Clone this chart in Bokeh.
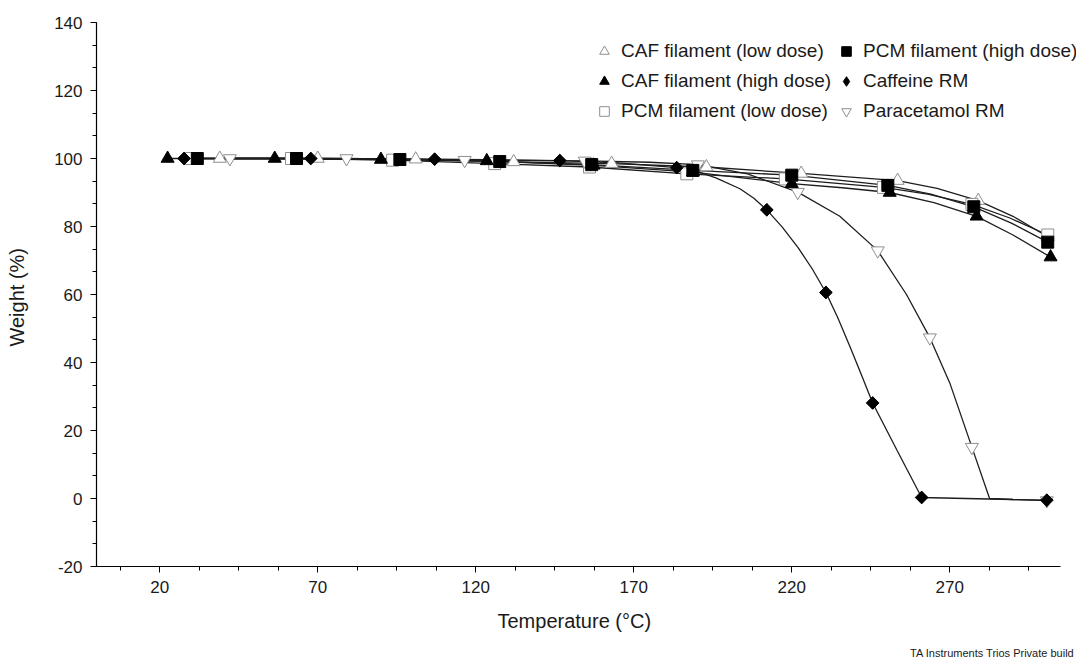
from bokeh.plotting import figure
from bokeh.models import FixedTicker, Legend, LegendItem, Title, Range1d
from bokeh.embed import file_html
from bokeh.resources import INLINE

# ---------------- data ----------------
# CAF filament (low dose)
caf_low_T = [39, 70, 101, 132, 163, 193, 223, 253.5, 266, 279, 290, 301]
caf_low_W = [100, 100, 99.8, 99.0, 98.5, 97.5, 95.6, 93.5, 91.2, 87.6, 83.0, 77.0]
caf_low_mT = [39, 70, 101, 132, 163, 193, 223, 253.5, 279, 301]
caf_low_mW = [100, 100, 99.8, 99.0, 98.5, 97.5, 95.6, 93.5, 87.6, 77.0]

# CAF filament (high dose)
caf_high_T = [22.5, 56.4, 90, 123.5, 157.3, 188.7, 220, 236, 251, 265, 278.5, 290, 301.9]
caf_high_W = [100, 100, 99.7, 99.3, 98.0, 96.0, 92.6, 91.4, 90.0, 87.0, 83.0, 77.5, 71.0]
caf_high_mT = [22.5, 56.4, 90, 123.5, 157.3, 188.7, 220, 251, 278.5, 301.9]
caf_high_mW = [100, 100, 99.7, 99.3, 98.0, 96.0, 92.6, 90.0, 83.0, 71.0]

# PCM filament (low dose)
pcm_low_T = [30, 61.7, 93.7, 126, 156, 186.8, 218, 249, 263, 277, 289, 301]
pcm_low_W = [100, 100, 99.5, 98.5, 97.5, 95.5, 94.0, 91.5, 89.5, 86.5, 82.5, 77.5]
pcm_low_mT = [30, 61.7, 93.7, 126, 156, 186.8, 218, 249, 277, 301]
pcm_low_mW = [100, 100, 99.5, 98.5, 97.5, 95.5, 94.0, 91.5, 86.5, 77.5]

# PCM filament (high dose)
pcm_high_T = [31.9, 63.3, 96, 127.6, 156.7, 188.7, 220, 250.4, 264, 277.6, 289.5, 301]
pcm_high_W = [100, 100, 99.7, 99.1, 98.2, 96.5, 95.1, 92.1, 89.5, 85.8, 81.0, 75.4]
pcm_high_mT = [31.9, 63.3, 96, 127.6, 156.7, 188.7, 220, 250.4, 277.6, 301]
pcm_high_mW = [100, 100, 99.7, 99.1, 98.2, 96.5, 95.1, 92.1, 85.8, 75.4]

# Caffeine RM
caf_rm_T = [27.7, 67.8, 107, 146.6, 165, 183.6, 190, 196, 203.6, 208, 212.1, 217, 222,
            226.5, 230.8, 234.5, 238.5, 242, 245.6, 253.3, 261.1, 275, 290, 300.7]
caf_rm_W = [100, 100, 99.8, 99.4, 98.7, 97.3, 96.2, 94.3, 91.1, 88.3, 84.9, 79.8, 73.8,
            67.5, 60.6, 53.3, 44.5, 36.5, 28.1, 14.2, 0.3, 0.0, -0.3, -0.5]
caf_rm_mT = [27.7, 67.8, 107, 146.6, 183.6, 212.1, 230.8, 245.6, 261.1, 300.7]
caf_rm_mW = [100, 100, 99.8, 99.4, 97.3, 84.9, 60.6, 28.1, 0.3, -0.5]

# Paracetamol RM
pcm_rm_T = [42.2, 79.1, 116.5, 154.5, 175, 190.3, 206, 221.9, 235.2, 247.2, 256.3,
            263.7, 270, 277, 282.6, 290, 300.7]
pcm_rm_W = [100, 100, 99.5, 99.3, 98.9, 98.2, 95.5, 90.1, 83.0, 72.9, 60.0,
            47.3, 34.0, 15.1, 0.0, -0.3, -0.6]
pcm_rm_mT = [42.2, 79.1, 116.5, 154.5, 190.3, 221.9, 247.2, 263.7, 277, 300.7]
pcm_rm_mW = [100, 100, 99.5, 99.3, 98.2, 90.1, 72.9, 47.3, 15.1, -0.6]

x_major = [20, 70, 120, 170, 220, 270]
x_minor = [7.5 + 12.5 * i for i in range(24)]
y_major = [-20, 0, 20, 40, 60, 80, 100, 120, 140]
y_minor = [-20 + 20 * i / 3 for i in range(25)]

FONT = "Liberation Sans"
TXT = "#1a1a1a"
LINE = "#1e1e1e"
GRAY = "#8f8f8f"

p = figure(width=1076, height=661, output_backend="svg", toolbar_location=None,
           x_range=Range1d(0, 310.1), y_range=Range1d(-20, 140),
           min_border_left=96, min_border_right=0, min_border_top=22,
           min_border_bottom=95, background_fill_color="white",
           border_fill_color="white")
p.outline_line_color = None
p.grid.visible = False

# curves
for T, W in [(caf_low_T, caf_low_W), (caf_high_T, caf_high_W), (pcm_low_T, pcm_low_W),
             (pcm_high_T, pcm_high_W), (caf_rm_T, caf_rm_W), (pcm_rm_T, pcm_rm_W)]:
    p.line(T, W, line_color=LINE, line_width=1.3)

# markers
r_caf_low = p.scatter(caf_low_mT, caf_low_mW, marker="triangle", size=13,
                      fill_color="white", line_color=GRAY, line_width=1)
r_pcm_low = p.scatter(pcm_low_mT, pcm_low_mW, marker="square", size=12,
                      fill_color="white", line_color=GRAY, line_width=1)
r_pcm_rm = p.scatter(pcm_rm_mT, pcm_rm_mW, marker="inverted_triangle", size=13,
                     fill_color="white", line_color=GRAY, line_width=1)
r_caf_high = p.scatter(caf_high_mT, caf_high_mW, marker="triangle", size=13,
                       fill_color="black", line_color="black")
r_caf_rm_leg = p.scatter(caf_rm_mT, caf_rm_mW, marker="diamond", size=12,
                         fill_color="black", line_color="black")
r_caf_rm = p.scatter(caf_rm_mT, caf_rm_mW, marker="square", size=9, angle=0.7854,
                     fill_color="black", line_color="black")
r_pcm_high = p.scatter(pcm_high_mT, pcm_high_mW, marker="square", size=12,
                       fill_color="black", line_color="black")

# axes
for ax in (p.xaxis[0], p.yaxis[0]):
    ax.axis_line_color = "black"
    ax.axis_line_width = 1.2
    ax.major_tick_line_color = "black"
    ax.minor_tick_line_color = "black"
    ax.major_tick_out = 6
    ax.major_tick_in = 0
    ax.minor_tick_out = 4
    ax.minor_tick_in = 0
    ax.major_label_text_font = FONT
    ax.major_label_text_font_size = "17px"
    ax.major_label_text_color = TXT
    ax.axis_label_text_font = FONT
    ax.axis_label_text_font_size = "20px"
    ax.axis_label_text_font_style = "normal"
    ax.axis_label_text_color = TXT
    ax.major_label_standoff = 8

p.xaxis[0].ticker = FixedTicker(ticks=x_major, minor_ticks=x_minor)
p.xaxis[0].bounds = (0, 305)
p.yaxis[0].ticker = FixedTicker(ticks=y_major, minor_ticks=y_minor)
p.yaxis[0].major_label_overrides = {-20: "-20"}
p.yaxis[0].axis_label = "Weight  (%)"
p.yaxis[0].axis_label_standoff = 23

# x-axis title (placed as a title so it can sit left of the extended frame centre)
xtitle = Title(text="Temperature  (°C)", align="left", offset=401,
               text_font=FONT, text_font_size="20px", text_font_style="normal",
               text_color=TXT, standoff=25, text_line_height=1.0)
p.add_layout(xtitle, "below")

# legends
def make_legend(items, loc):
    lg = Legend(items=items, location=loc, orientation="vertical",
                glyph_width=24, glyph_height=24, label_height=24, spacing=6,
                padding=0, margin=0, label_standoff=5,
                border_line_alpha=0, background_fill_alpha=0,
                label_text_font=FONT, label_text_font_size="19px",
                label_text_color=TXT)
    p.add_layout(lg)
    return lg

make_legend([LegendItem(label="CAF filament (low dose)", renderers=[r_caf_low]),
             LegendItem(label="CAF filament (high dose)", renderers=[r_caf_high]),
             LegendItem(label="PCM filament (low dose)", renderers=[r_pcm_low])],
            (496, 443))
make_legend([LegendItem(label="PCM filament (high dose)", renderers=[r_pcm_high]),
             LegendItem(label="Caffeine RM", renderers=[r_caf_rm_leg]),
             LegendItem(label="Paracetamol RM", renderers=[r_pcm_rm])],
            (738, 443))

foot = Title(text="TA Instruments Trios Private build", align="right",
             text_font=FONT, text_font_size="11px", text_font_style="normal",
             text_color=TXT, standoff=0, offset=2)
p.add_layout(foot, "below")

open("out.html", "w").write(file_html(p, INLINE))
